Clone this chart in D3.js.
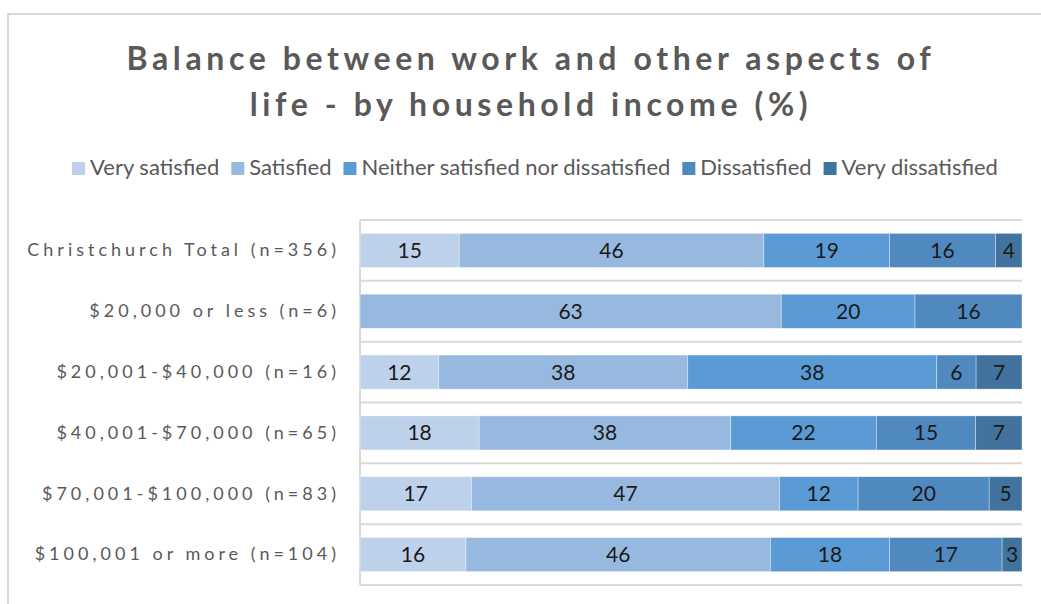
<!DOCTYPE html>
<html>
<head>
<meta charset="utf-8">
<script src="https://cdn.jsdelivr.net/npm/d3@7/dist/d3.min.js"></script>
<style>
  body { margin: 0; background: #fff; }
  svg { display: block; font-family: Lato, "Open Sans", sans-serif; }
</style>
</head>
<body>
<div id="chart"></div>
<script>
// data
const categories = [
  'Christchurch Total (n=356)',
  '$20,000 or less (n=6)',
  '$20,001-$40,000 (n=16)',
  '$40,001-$70,000 (n=65)',
  '$70,001-$100,000 (n=83)',
  '$100,001 or more (n=104)'
];
const seriesNames = ['Very satisfied', 'Satisfied', 'Neither satisfied nor dissatisfied', 'Dissatisfied', 'Very dissatisfied'];
const verySatisfied    = [15, 0, 12, 18, 17, 16];
const satisfied        = [46, 63, 38, 38, 47, 46];
const neither          = [19, 20, 38, 22, 12, 18];
const dissatisfied     = [16, 16, 6, 15, 20, 17];
const veryDissatisfied = [4, 0, 7, 7, 5, 3];
const colors = ['#bdd1ea', '#98b9df', '#5b9bd5', '#4f89bf', '#42729e'];

const width = 1041, height = 604;
const margin = { top: 220, right: 19, bottom: 19, left: 360 };

const rows = categories.map((c, i) => ({
  cat: c,
  [seriesNames[0]]: verySatisfied[i],
  [seriesNames[1]]: satisfied[i],
  [seriesNames[2]]: neither[i],
  [seriesNames[3]]: dissatisfied[i],
  [seriesNames[4]]: veryDissatisfied[i]
}));

// Excel style 100% stacked bar
const stacked = d3.stack()
  .keys(seriesNames)
  .offset(d3.stackOffsetExpand)(rows);

const svg = d3.select('#chart').append('svg')
  .attr('width', width)
  .attr('height', height);

// chart border
svg.append('rect')
  .attr('x', 8).attr('y', 14)
  .attr('width', 1100).attr('height', 700)
  .attr('fill', 'none')
  .attr('stroke', '#d9d9d9')
  .attr('stroke-width', 2);

const x = d3.scaleLinear()
  .domain([0, 1])
  .range([margin.left, width - margin.right]);

const y = d3.scaleBand()
  .domain(categories)
  .range([margin.top, height - margin.bottom])
  .paddingInner(0.44)
  .paddingOuter(0.22);

// gridlines between categories
const gridYs = categories.map(c => y(c) - y.step() * 0.22).concat([height - margin.bottom]);
svg.append('g')
  .selectAll('line')
  .data(gridYs)
  .join('line')
  .attr('x1', x(0)).attr('x2', x(1))
  .attr('y1', d => d).attr('y2', d => d)
  .attr('stroke', '#d9d9d9')
  .attr('stroke-width', 2);

svg.append('line')
  .attr('x1', x(0)).attr('x2', x(0))
  .attr('y1', margin.top).attr('y2', height - margin.bottom)
  .attr('stroke', '#d9d9d9')
  .attr('stroke-width', 2);

// bars
const layer = svg.append('g')
  .selectAll('g')
  .data(stacked)
  .join('g')
  .attr('fill', (d, i) => colors[i]);

layer.selectAll('rect')
  .data(d => d)
  .join('rect')
  .attr('x', d => x(d[0]))
  .attr('y', d => y(d.data.cat))
  .attr('width', d => x(d[1]) - x(d[0]))
  .attr('height', y.bandwidth())
  .attr('stroke', '#fff')
  .attr('stroke-opacity', 0.45)
  .attr('stroke-width', 0.75);

// value labels
layer.selectAll('text')
  .data(d => d.map(v => ({ v, key: d.key })))
  .join('text')
  .filter(d => d.v.data[d.key] > 0)
  .attr('x', d => (x(d.v[0]) + x(d.v[1])) / 2)
  .attr('y', d => y(d.v.data.cat) + y.bandwidth() / 2)
  .attr('dy', '0.36em')
  .attr('text-anchor', 'middle')
  .attr('fill', '#1a1a1a')
  .attr('font-size', 21)
  .text(d => d.v.data[d.key]);

// category axis
const yAxis = svg.append('g')
  .attr('transform', 'translate(' + x(0) + ',0)')
  .call(d3.axisLeft(y).tickSize(0).tickPadding(20));
yAxis.select('.domain').remove();
yAxis.selectAll('text')
  .attr('font-family', 'Lato, "Open Sans", sans-serif')
  .attr('font-size', 18)
  .attr('letter-spacing', '4px')
  .attr('fill', '#595959');

// title
const title = svg.append('text')
  .attr('text-anchor', 'middle')
  .attr('font-size', 32)
  .attr('font-weight', 'bold')
  .attr('letter-spacing', '4.6px')
  .attr('fill', '#595959');
title.append('tspan').attr('x', 531).attr('y', 70).text('Balance between work and other aspects of');
title.append('tspan').attr('x', 531).attr('y', 116).text('life - by household income (%)');

// legend
const legend = svg.append('g').attr('font-size', 22).attr('fill', '#595959');
let lx = 0;
const items = legend.selectAll('g')
  .data(seriesNames)
  .join('g');
items.append('rect')
  .attr('width', 13).attr('height', 13)
  .attr('y', -13)
  .attr('fill', (d, i) => colors[i]);
items.append('text')
  .attr('x', 18)
  .text(d => d);
items.each(function () {
  d3.select(this).attr('transform', 'translate(' + lx + ',0)');
  lx += this.getBBox().width + 12;
});
legend.attr('transform', 'translate(' + (535 - (lx - 12) / 2) + ',175)');
</script>
</body>
</html>
